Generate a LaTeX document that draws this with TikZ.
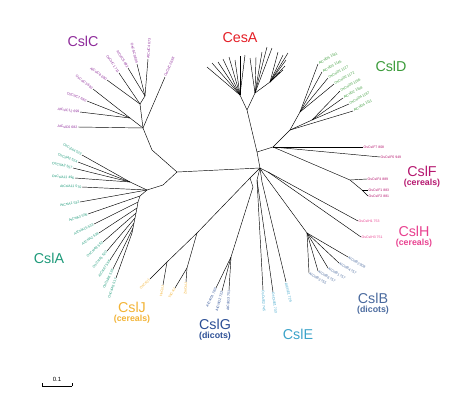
\documentclass[tikz,border=0pt]{standalone}
\usepackage{fontspec}
\setmainfont{Liberation Sans}
\usetikzlibrary{positioning,calc}
\definecolor{cesacol}{HTML}{E41E26}
\definecolor{cslccol}{HTML}{8E2B9A}
\definecolor{csldcol}{HTML}{3B9B3A}
\definecolor{cslfcol}{HTML}{B5176F}
\definecolor{cslhcol}{HTML}{E8408F}
\definecolor{cslbcol}{HTML}{4A6A9E}
\definecolor{cslecol}{HTML}{3BA3C9}
\definecolor{cslgcol}{HTML}{2B4E95}
\definecolor{csljcol}{HTML}{F2B335}
\definecolor{cslacol}{HTML}{1E9A7A}
\tikzset{
  br/.style={line width=0.45pt},
  lab/.style={font=\fontsize{3.5}{4}\selectfont, inner sep=0.5pt},
  clade/.style={font=\fontsize{14.3}{15}\selectfont, inner sep=0pt},
  sub/.style={font=\bfseries\fontsize{8.8}{10}\selectfont, inner sep=0pt}
}
\begin{document}
\begin{tikzpicture}[x=1pt,y=-1pt]
  \useasboundingbox (0,0) rectangle (474,405);
  % backbone
  \coordinate (R) at (177,172);
  \coordinate (M) at (260,168);
  \coordinate (X) at (257,152);
  \coordinate (X2) at (273,147);
  \draw[br] (R) -- (M) -- (X) -- (X2);
  % CesA
  \coordinate (K0) at (247,110);
  \coordinate (K1) at (240,95);
  \coordinate (K2) at (255,93);
  \coordinate (K3) at (270,82);
  \draw[br] (X) -- (K0) -- (K1);
  \draw[br] (K0) -- (K2) -- (K3);
  \foreach \p/\x/\y [count=\i] in {K1/207/67,K1/212/63,K1/218/62,K1/223/59,K1/229/57,K1/235/60,K1/240/56,K1/245/55,
      K2/250/58,K2/256/57,K2/262/52,K2/267/47,K2/272/48,
      K3/278/52,K3/283/55,K3/288/53,K3/286/60,K3/285/66,K3/283/70,K3/280/72}
    \draw[br] (\p) -- (\x,\y) coordinate (kt\i);
  % CslC
  \coordinate (Cs) at (152,150);
  \coordinate (C0) at (143,128);
  \coordinate (C1) at (130,118);
  \coordinate (C2) at (140,104);
  \coordinate (C3) at (145,96);
  \draw[br] (R) -- (Cs) -- (C0) -- (C1);
  \draw[br] (C0) -- (C2) -- (C3);
  \foreach \p/\x/\y/\a/\t [count=\i] in {C0/78/127/east/AtCslC6 682,C1/80/112/east/AtCslC12 699,C1/87/101/east/OsCslC7 680,
      C1/93/89/east/OsCslC3 693,C2/107/80/east/AtCslC8 690,C2/119/73/east/OsCslC1 711,C3/128/68/east/AtCslC5 692,
      C3/137/64/east/OsCslC9 699,C3/148/59/west/AtCslC4 673,C0/165/77/west/OsCslC2 698}
    \draw[br] (\p) -- node[pos=1, sloped, anchor=\a, lab, text=cslccol] (cl\i) {\t} (\x,\y);
  % CslA
  \coordinate (As) at (163,185);
  \coordinate (A0) at (147,190);
  \coordinate (A1) at (130,182);
  \draw[br] (R) -- (As) -- (A0) -- (A1);
  \draw[br] (A0) -- (140,196) coordinate (a2) -- (138,202) coordinate (a3) -- (137,208) coordinate (a4)
    -- (136,213) coordinate (a5) -- (135,218) coordinate (a6) -- (134,223) coordinate (a7)
    -- (133,228) coordinate (a8) -- (132,233) coordinate (a9);
  \foreach \p/\x/\y/\t [count=\i] in {A1/82/155/OsCslA4 523,A1/78/162/OsCslA2 524,A1/73/168/OsCslA3 557,A1/75/178/OsCslA11 496,
      A0/82/187/AtCslA11 570,A0/80/202/AtCslA1 532,a2/88/214/AtCslA3 556,a3/94/224/AtCslA15 533,a4/99/233/AtCslA2 538,
      a5/103/242/OsCslA9 553,a6/107/251/OsCslA1 520,a7/110/260/AtCslA7 556,a8/113/269/OsCslA6 536,a9/116/278/OsCslA5 517}
    \draw[br] (\p) -- node[pos=1, sloped, anchor=east, lab, text=cslacol] (al\i) {\t} (\x,\y);
  % CslJ
  \coordinate (Js) at (250,178);
  \coordinate (J0) at (197,233);
  \coordinate (J1) at (167,262);
  \coordinate (J2) at (187,268);
  \draw[br] (M) -- (Js) -- (J0) -- (J1);
  \draw[br] (J0) -- (J2);
  \foreach \p/\x/\y/\t [count=\i] in {J1/150/279/OsCslJ1,J1/163/285/HvCslJ,J2/175/288/TaCslJ,J2/186/282/ZmCslJ}
    \draw[br] (\p) -- node[pos=1, sloped, anchor=east, lab, text=csljcol] (jl\i) {\t} (\x,\y);
  % CslG
  \coordinate (Gs) at (253,187);
  \coordinate (G0) at (231,257);
  \draw[br] (Js) -- (Gs) -- (G0);
  \foreach \x/\y/\t [count=\i] in {216/288/AtCslG1 760,222/291/AtCslG2 722,229/290/AtCslG3 751}
    \draw[br] (G0) -- node[pos=1, sloped, anchor=east, lab, text=cslgcol] (gl\i) {\t} (\x,\y);
  % CslE
  \coordinate (E0) at (257,180);
  \coordinate (E1) at (262,182);
  \draw[br] (M) -- (E0);
  \draw[br] (M) -- (E1);
  \foreach \p/\x/\y/\t [count=\i] in {E0/263/290/OsCslE2 745,E0/273/292/OsCslE1 733,E1/286/282/AtCslE1 729}
    \draw[br] (\p) -- node[pos=1, sloped, anchor=west, lab, text=cslecol] (el\i) {\t} (\x,\y);
  % CslB
  \coordinate (Bs) at (263,173);
  \coordinate (B0) at (307,233);
  \draw[br] (M) -- (Bs) -- (B0);
  \foreach \x/\y/\t [count=\i] in {309/273/AtCslB3 755,318/271/AtCslB6 757,328/268/AtCslB1 757,339/263/AtCslB4 757,348/257/AtCslB2 908}
    \draw[br] (B0) -- node[pos=1, rotate=-32, anchor=west, lab, text=cslbcol] (bl\i) {\t} (\x,\y);
  % CslH
  \coordinate (H0) at (268,172);
  \draw[br] (M) -- (H0);
  \foreach \x/\y/\t [count=\i] in {358/221/OsCslH1 753,361/237/OsCslH3 751}
    \draw[br] (H0) -- node[pos=1, anchor=west, lab, text=cslhcol] (hl\i) {\t} (\x,\y);
  % CslF
  \coordinate (F0) at (350,180);
  \coordinate (F1) at (362,190);
  \draw[br] (X2) -- (F0) -- (F1);
  \foreach \p/\x/\y/\t [count=\i] in {X2/363/147/OsCslF7 808,X2/380/157/OsCslF6 949,F0/367/179/OsCslF4 889,F1/368/190/OsCslF1 883,F1/368/196/OsCslF2 881}
    \draw[br] (\p) -- node[pos=1, anchor=west, lab, text=cslfcol] (fl\i) {\t} (\x,\y);
  % CslD
  \coordinate (D0) at (290,130);
  \coordinate (D1) at (300,112);
  \coordinate (D2) at (312,120);
  \draw[br] (X2) -- (D0) -- (D1);
  \draw[br] (D0) -- (D2);
  \foreach \p/\x/\y/\t [count=\i] in {D1/318/64/AtCslD5 1181,D1/322/72/AtCslD3 1145,D1/328/78/OsCslD1 1127,D1/334/84/OsCslD2 1172,
      D2/340/91/OsCslD3 1166,D2/343/98/AtCslD2 1168,D2/349/104/OsCslD4 1187,D0/353/111/AtCslD4 1111}
    \draw[br] (\p) -- node[pos=1, rotate=30, anchor=west, lab, text=csldcol] (dl\i) {\t} (\x,\y);
  % clade names
  \node[clade, text=cesacol] (cesa) at (240,38) {CesA};
  \node[clade, text=cslccol] (cslc) at (83,41) {CslC};
  \node[clade, text=csldcol] (csld) at (391,66) {CslD};
  \node[clade, text=cslfcol] (cslf) at (422,171) {CslF};
  \node[sub, text=cslfcol, below=2pt of cslf] (cslfc) {(cereals)};
  \node[clade, text=cslhcol] (cslh) at (414,231) {CslH};
  \node[sub, text=cslhcol, below=2pt of cslh] (cslhc) {(cereals)};
  \node[clade, text=cslbcol] (cslb) at (373,298) {CslB};
  \node[sub, text=cslbcol, below=2pt of cslb] (cslbd) {(dicots)};
  \node[clade, text=cslecol] (csle) at (298,334) {CslE};
  \node[clade, text=cslgcol] (cslg) at (215,324) {CslG};
  \node[sub, text=cslgcol, below=2pt of cslg] (cslgd) {(dicots)};
  \node[clade, text=csljcol] (cslj) at (132,307) {CslJ};
  \node[sub, text=csljcol, below=2pt of cslj] (csljc) {(cereals)};
  \node[clade, text=cslacol] (csla) at (49,258) {CslA};
  % scale bar
  \coordinate (s0) at (42,386);
  \coordinate (s1) at (72,386);
  \draw[br] (s0) -- (s1);
  \draw[br] (s0) -- ++(0,-3);
  \draw[br] (s1) -- ++(0,-3);
  \node[font=\fontsize{6}{7}\selectfont, above=1pt] (sc) at ($(s0)!0.5!(s1)$) {0.1};
\end{tikzpicture}
\end{document}
